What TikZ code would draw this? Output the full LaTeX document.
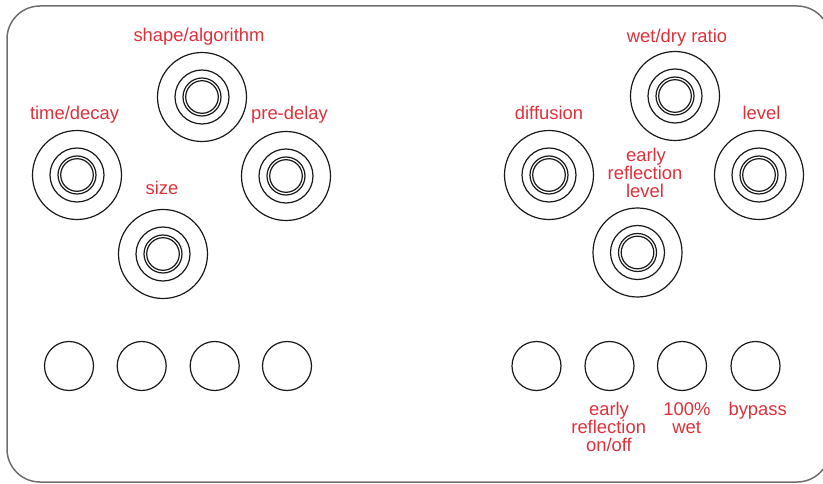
\documentclass[tikz,border=0pt]{standalone}
\usepackage{fontspec}
\setmainfont{Liberation Sans}
\definecolor{lbl}{RGB}{224,48,58}
\definecolor{frame}{RGB}{110,110,110}
\definecolor{ink}{RGB}{25,25,25}
\tikzset{
  lab/.style={text=lbl, font=\fontsize{18.4}{18}\selectfont, anchor=base, inner sep=0pt},
  ring/.style={draw=ink, line width=1.2pt},
  knobouter/.style={ring, circle, minimum size=89pt, inner sep=0pt},
  btn/.style={ring, circle, minimum size=49pt, inner sep=0pt},
}
\newcommand{\knob}[3]{%
  \node[knobouter] (#1) at (#2,#3) {};
  \draw[ring] (#1.center) circle (27pt);
  \draw[ring] (#1.center) circle (19pt);
  \draw[ring] (#1.center) circle (16.3pt);
}
\begin{document}
\begin{tikzpicture}[x=1pt,y=-1pt]
\useasboundingbox (0,0) rectangle (823,484);
\clip (0,0) rectangle (823,484);
\draw[frame, line width=1.5pt, rounded corners=33pt] (7,6) rectangle (830,482);
% left knobs
\knob{shape}{202}{97}
\knob{time}{77}{175}
\knob{pre}{286}{176}
\knob{size}{163}{254}
\node[lab] (tshape) at (199,41.7) {shape/algorithm};
\node[lab] (ttime) at (74.5,120) {time/decay};
\node[lab] (tpre) at (289.5,120) {pre-delay};
\node[lab] (tsize) at (162,195) {size};
% right knobs
\knob{wet}{675}{96}
\knob{diff}{549}{175}
\knob{lev}{759}{175}
\knob{erl}{637.5}{252.5}
\node[lab] (twet) at (677,42.7) {wet/dry ratio};
\node[lab] (tdiff) at (549,119.3) {diffusion};
\node[lab] (tlev) at (761.5,119.3) {level};
\node[lab] (terl1) at (646,161.7) {early};
\node[lab] (terl2) at (645,179.7) {reflection};
\node[lab] (terl3) at (645,198) {level};
% buttons
\node[btn] (b1) at (69,366) {};
\node[btn] (b2) at (141.7,366) {};
\node[btn] (b3) at (214.7,366) {};
\node[btn] (b4) at (287,366) {};
\node[btn] (b5) at (536.5,366) {};
\node[btn] (b6) at (609.5,366) {};
\node[btn] (b7) at (682,366) {};
\node[btn] (b8) at (755.5,366) {};
\node[lab] (tb6a) at (609,415) {early};
\node[lab] (tb6b) at (608.7,433.3) {reflection};
\node[lab] (tb6c) at (609,451) {on/off};
\node[lab] (tb7a) at (687,415) {100\%};
\node[lab] (tb7b) at (686.7,433.3) {wet};
\node[lab] (tb8) at (757.7,415) {bypass};
\end{tikzpicture}
\end{document}
